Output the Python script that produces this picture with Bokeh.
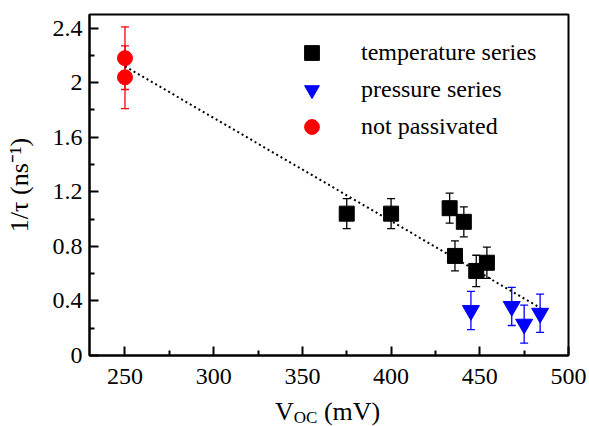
from bokeh.plotting import figure
from bokeh.layouts import column
from bokeh.models import (ColumnDataSource, Range1d, FixedTicker, CustomJSTickFormatter,
                          Whisker, TeeHead, Legend, LegendItem, Div)
from bokeh.embed import file_html
from bokeh.resources import INLINE

# ---- data ----
temp_v = [375, 400, 433, 441, 436, 448, 454]
temp_y = [1.04, 1.04, 1.08, 0.98, 0.73, 0.62, 0.68]
temp_err = [0.11, 0.11, 0.11, 0.11, 0.11, 0.115, 0.115]

pres_v = [445, 468, 475, 484]
pres_y = [0.33, 0.36, 0.23, 0.31]
pres_err = [0.14, 0.14, 0.14, 0.14]

np_v = [250, 250]
np_y = [2.18, 2.04]
np_err = [0.23, 0.23]

fit_v = [250, 484]
fit_y = [2.12, 0.35]

x_ticks = [250, 300, 350, 400, 450, 500]
x_minor = [225, 275, 325, 375, 425, 475]
y_ticks = [0, 0.4, 0.8, 1.2, 1.6, 2.0, 2.4]
y_minor = [0.2, 0.6, 1.0, 1.4, 1.8, 2.2]

legend_labels = ["temperature series", "pressure series", "not passivated"]
y_label = "1/\u03c4 (ns\u207b\u00b9)"

FONT = "Liberation Serif"

p = figure(width=589, height=400, output_backend="svg", toolbar_location=None,
           x_range=Range1d(230, 500), y_range=Range1d(0, 2.5),
           min_border_left=89, min_border_right=21, min_border_top=14, min_border_bottom=45)
p.xgrid.visible = False
p.ygrid.visible = False
p.outline_line_color = "black"
p.outline_line_width = 2
p.background_fill_color = "white"

for ax in (p.xaxis, p.yaxis):
    ax.axis_line_width = 2
    ax.major_tick_line_width = 2
    ax.minor_tick_line_width = 2
    ax.major_tick_in = 9
    ax.major_tick_out = 0
    ax.minor_tick_in = 5
    ax.minor_tick_out = 0
    ax.major_label_text_font = FONT
    ax.major_label_text_font_size = "24px"
    ax.major_label_text_color = "black"

p.xaxis.ticker = FixedTicker(ticks=x_ticks, minor_ticks=x_minor)
p.yaxis.ticker = FixedTicker(ticks=y_ticks, minor_ticks=y_minor)
p.yaxis.formatter = CustomJSTickFormatter(code="return tick.toFixed(1).replace(/\\.0$/, '');")
p.xaxis.major_label_standoff = 13
p.yaxis.major_label_standoff = 7

p.yaxis.axis_label = y_label
p.yaxis.axis_label_text_font = FONT
p.yaxis.axis_label_text_font_size = "26px"
p.yaxis.axis_label_text_font_style = "normal"
p.yaxis.axis_label_text_color = "black"
p.yaxis.axis_label_standoff = 16

# fit line
p.line(fit_v, fit_y, line_color="black", line_width=2, line_dash="2 3")

def series(xs, ys, es, color, marker, size):
    src = ColumnDataSource(dict(x=xs, y=ys,
                                lo=[y - e for y, e in zip(ys, es)],
                                hi=[y + e for y, e in zip(ys, es)]))
    w = Whisker(source=src, base="x", lower="lo", upper="hi",
                line_color=color, line_width=1.3,
                upper_head=TeeHead(size=8, line_color=color, line_width=1.3),
                lower_head=TeeHead(size=8, line_color=color, line_width=1.3))
    p.add_layout(w)
    r = p.scatter("x", "y", source=src, marker=marker, size=size,
                  fill_color=color, line_color=color)
    return r

r_t = series(temp_v, temp_y, temp_err, "black", "square", 15)
r_p = series(pres_v, pres_y, pres_err, "#0000ff", "inverted_triangle", 17)
r_n = series(np_v, np_y, np_err, "#ff0000", "circle", 15)

legend = Legend(items=[LegendItem(label=legend_labels[0], renderers=[r_t]),
                       LegendItem(label=legend_labels[1], renderers=[r_p]),
                       LegendItem(label=legend_labels[2], renderers=[r_n])],
                location=(204, 210), glyph_width=37, glyph_height=37, label_height=37,
                spacing=0, padding=0, margin=0, label_standoff=31,
                border_line_alpha=0, background_fill_alpha=0,
                label_text_font=FONT, label_text_font_size="24px",
                label_text_color="black")
p.add_layout(legend)

# x axis label "V_OC (mV)" with a real subscript, as HTML text under the plot
xlabel = Div(
    text=('<div style="padding-left:275px; font-family:\'Liberation Serif\'; '
          'font-size:26px; line-height:24px; color:black; white-space:nowrap;">'
          'V<span style="font-size:17px; position:relative; top:3px;">OC</span> (mV)</div>'),
    width=589, height=26, margin=(0, 0, 0, 0))

layout = column(p, xlabel, spacing=0)

open("out.html", "w").write(file_html(layout, INLINE))
